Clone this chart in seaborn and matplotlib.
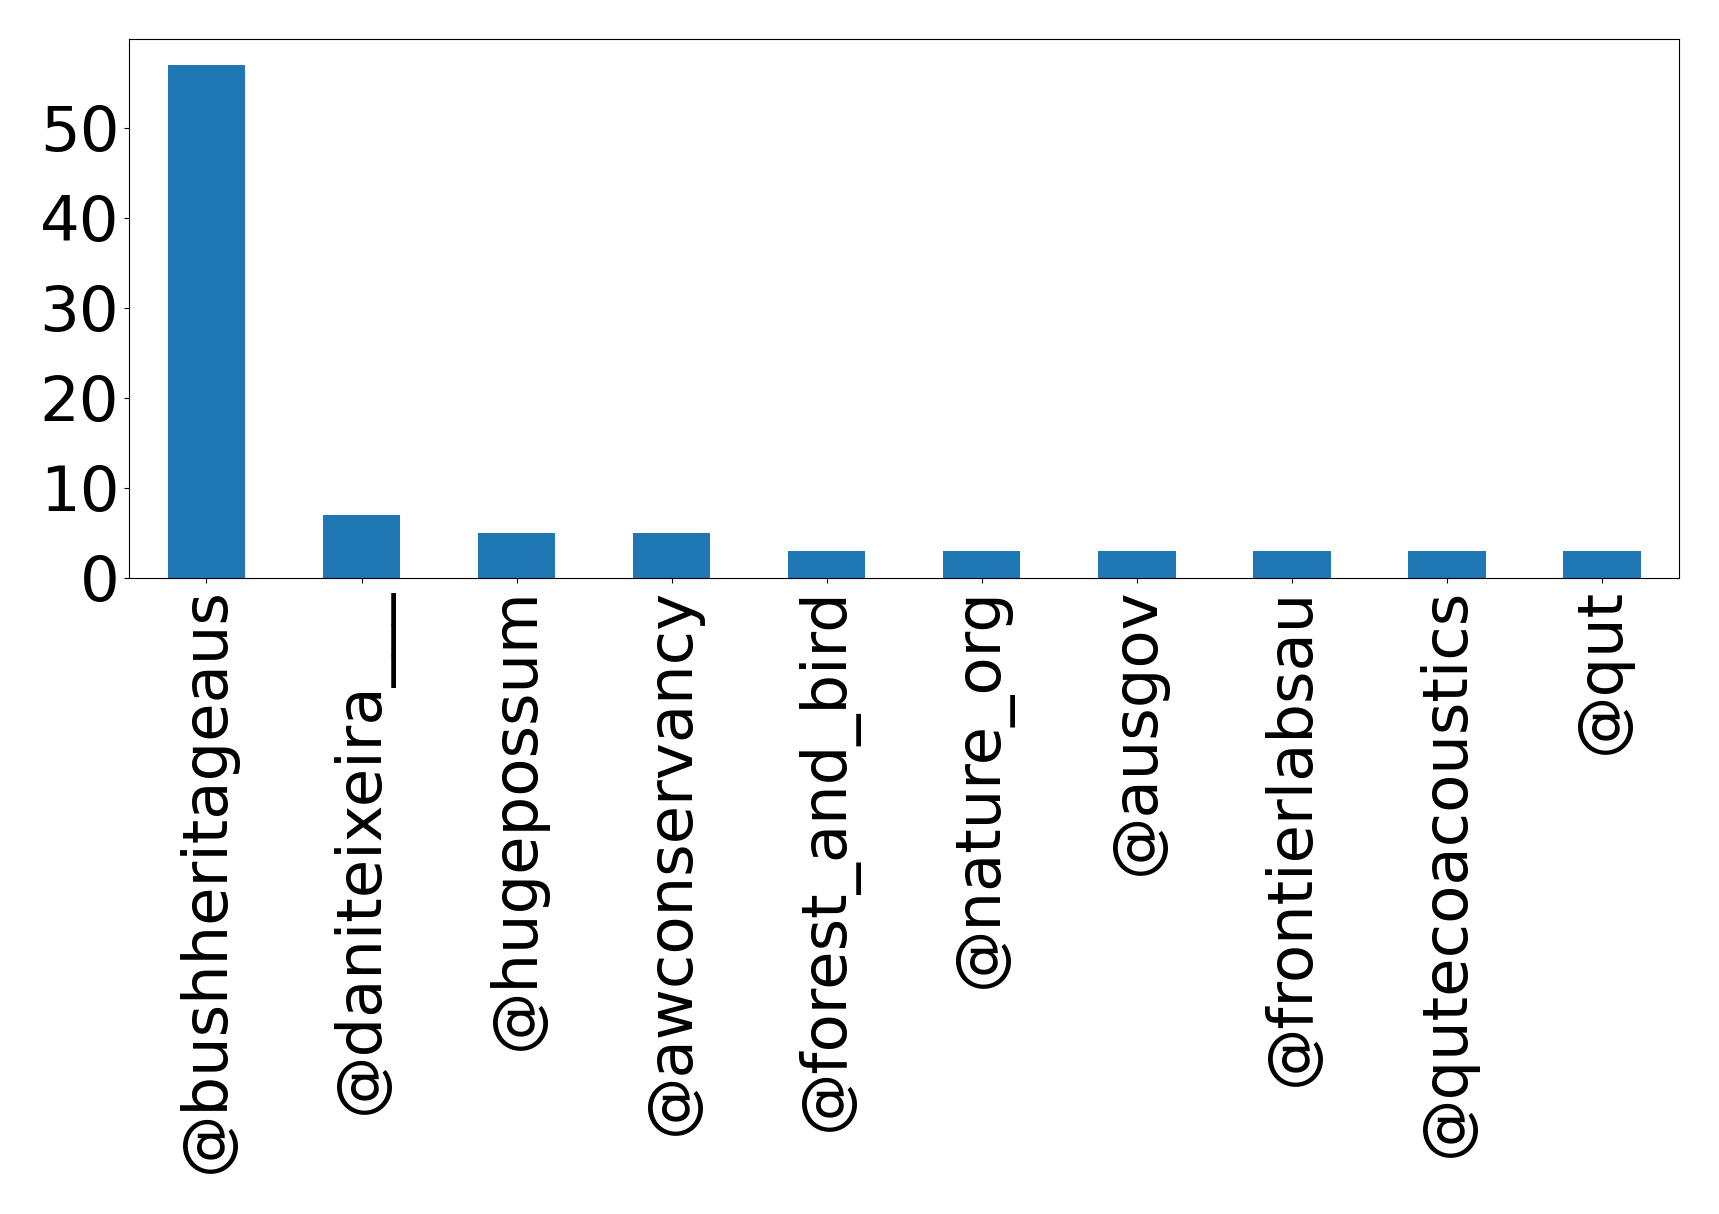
import matplotlib
matplotlib.use("Agg")
import matplotlib.pyplot as plt
import seaborn as sns
import pandas as pd

accounts = ["@bushheritageaus", "@daniteixeira___", "@hugepossum", "@awconservancy",
            "@forest_and_bird", "@nature_org", "@ausgov", "@frontierlabsau",
            "@qutecoacoustics", "@qut"]
counts = [57, 7, 5, 5, 3, 3, 3, 3, 3, 3]

df = pd.DataFrame({"account": accounts, "count": counts})

fig = plt.figure(figsize=(17.19, 12.14), dpi=100)
ax = fig.add_axes([0.075, 0.524, 0.902, 0.444])
sns.barplot(data=df, x="account", y="count", order=accounts, color="#1f77b4",
            saturation=1, width=0.5, ax=ax, linewidth=0)
ax.set_xlim(-0.5, len(accounts) - 0.5)
ax.set_ylim(0, max(counts) * 1.05)
ax.set_yticks([0, 10, 20, 30, 40, 50])
ax.set_xlabel("")
ax.set_ylabel("")
ax.tick_params(axis="both", labelsize=45)
ax.tick_params(axis="x", labelrotation=90)
for s in ax.spines.values():
    s.set_visible(True)
    s.set_color("black")
    s.set_linewidth(0.8)
fig.savefig("out.png", dpi=100)
